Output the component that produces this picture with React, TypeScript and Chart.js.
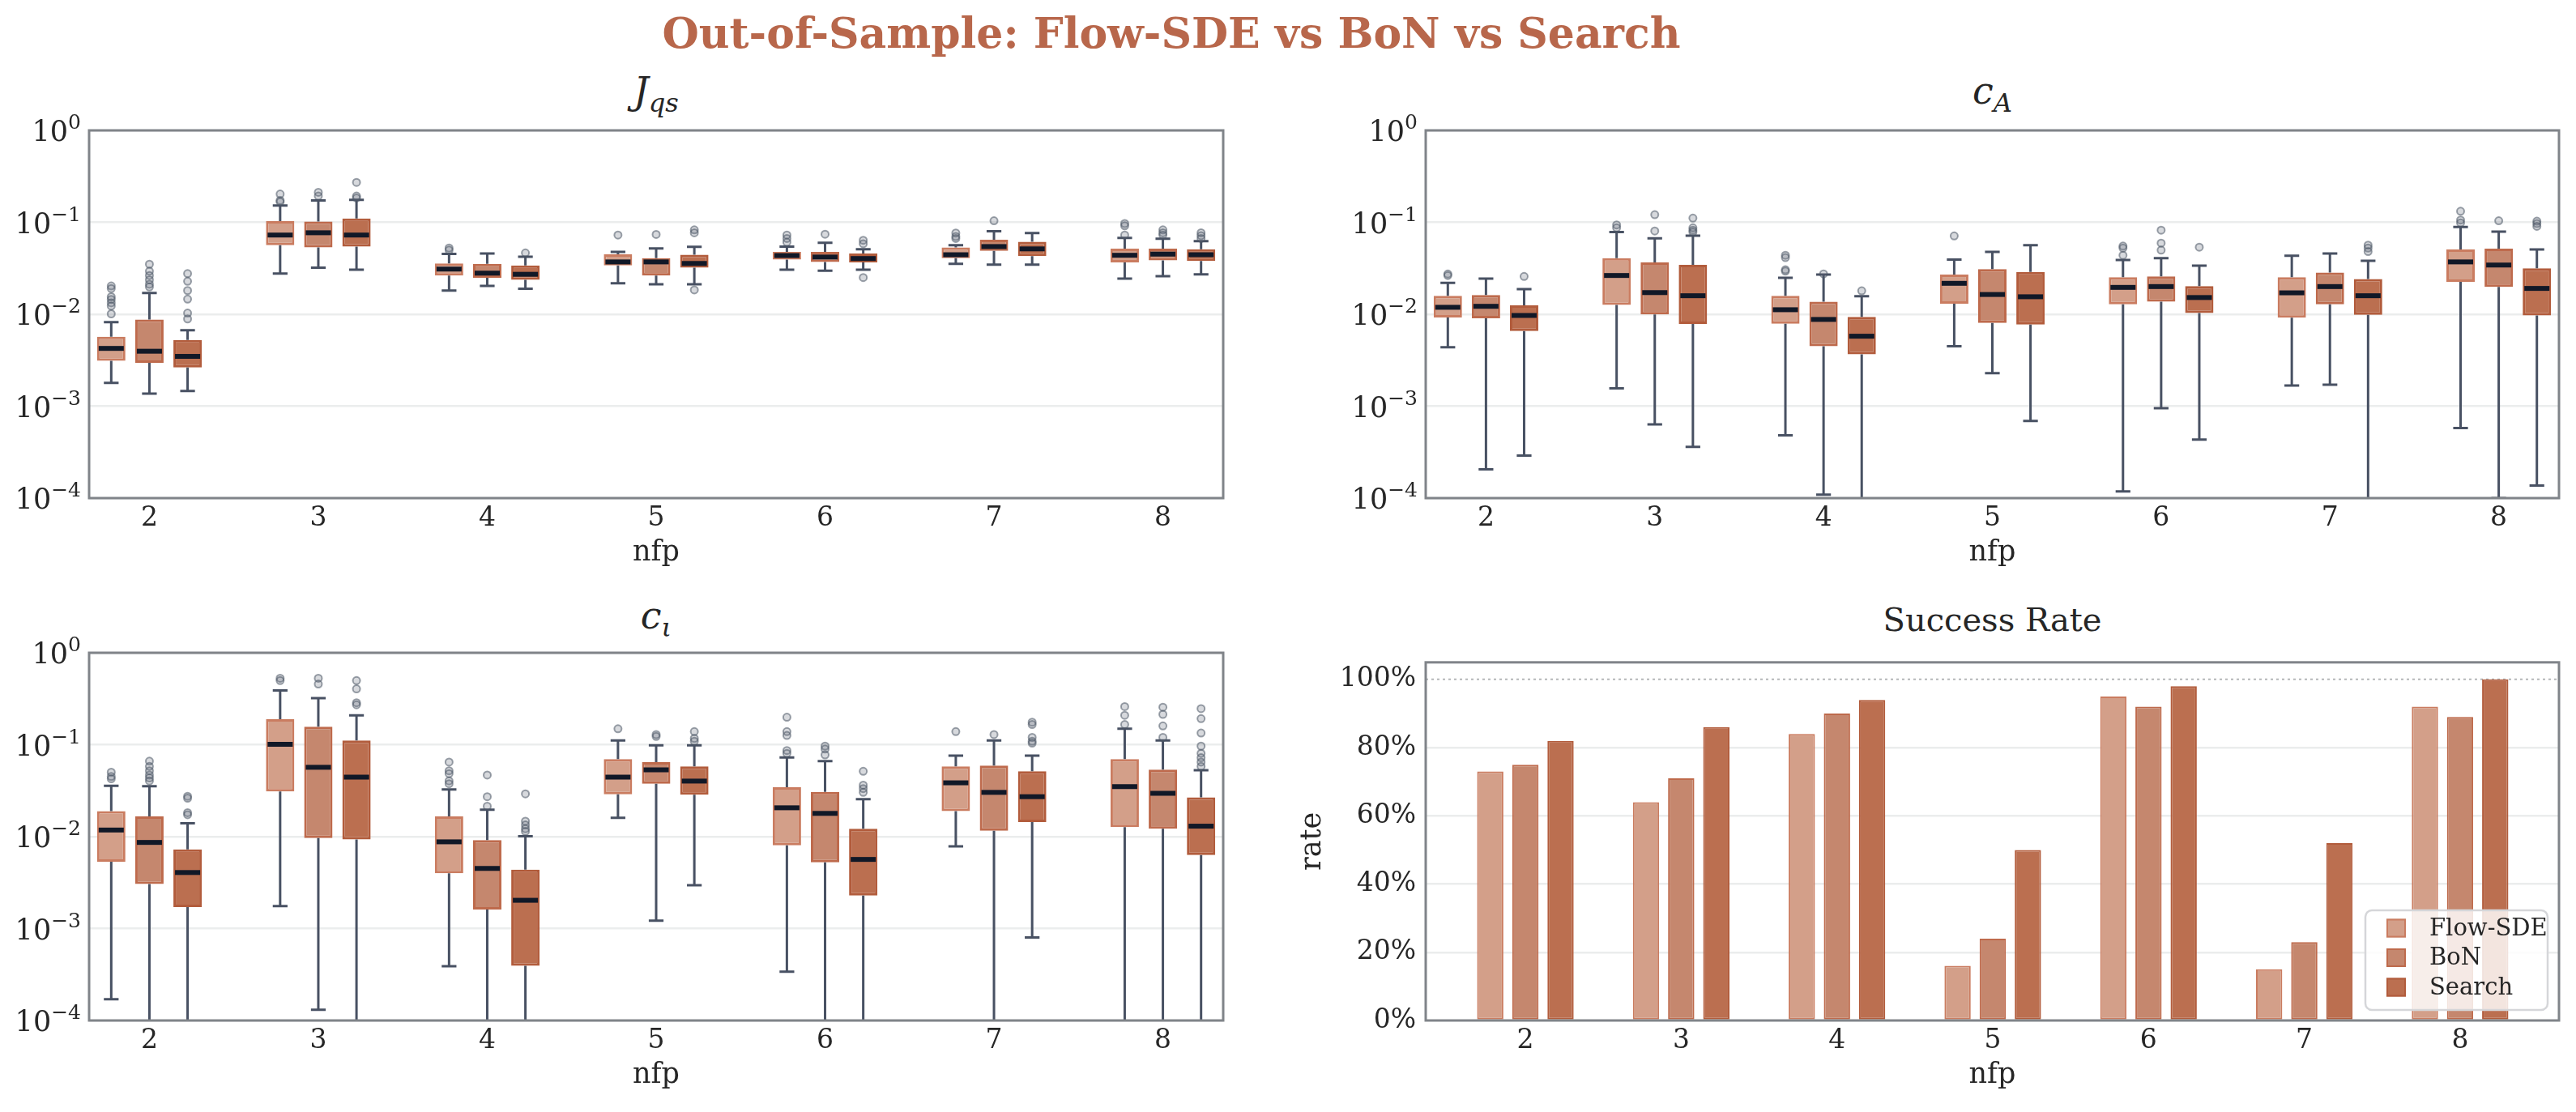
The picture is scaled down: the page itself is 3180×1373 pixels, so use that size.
import React, { useEffect, useRef } from 'react';
import { Chart, registerables } from 'chart.js';

Chart.register(...registerables);

// ---------------- data ----------------
const nfpLabels = ['2', '3', '4', '5', '6', '7', '8'];
const methodNames = ['Flow-SDE', 'BoN', 'Search'];

// Box statistics per nfp: [lower whisker, Q1, median, Q3, upper whisker]
const jqsFlowSDE = [
  [0.00179, 0.00312, 0.00425, 0.00569, 0.00822],
  [0.0277, 0.0564, 0.0727, 0.103, 0.152],
  [0.0181, 0.0264, 0.031, 0.0357, 0.0454],
  [0.0217, 0.034, 0.0371, 0.0448, 0.0478],
  [0.0305, 0.0393, 0.0435, 0.0478, 0.0545],
  [0.0353, 0.0407, 0.0444, 0.0533, 0.0564],
  [0.0244, 0.0366, 0.0438, 0.0518, 0.0676],
];
const jqsFlowSDEOutliers = [
  [0.0203, 0.019, 0.0155, 0.0145, 0.0133, 0.0123, 0.0101],
  [0.203, 0.173, 0.167],
  [0.0525, 0.0499],
  [0.0727],
  [0.0727, 0.0667, 0.0607],
  [0.0765, 0.0701, 0.0667],
  [0.097, 0.0917, 0.0727],
];
const jqsBoN = [
  [0.00137, 0.00296, 0.00396, 0.00878, 0.017],
  [0.0321, 0.0533, 0.077, 0.102, 0.173],
  [0.0203, 0.0249, 0.028, 0.0353, 0.0457],
  [0.0212, 0.0264, 0.0371, 0.0407, 0.0521],
  [0.0298, 0.0371, 0.0419, 0.0478, 0.0598],
  [0.0347, 0.0489, 0.0545, 0.0648, 0.0799],
  [0.026, 0.0385, 0.0451, 0.0518, 0.0662],
];
const jqsBoNOutliers = [
  [0.035, 0.0294, 0.0264, 0.0237, 0.0212, 0.0198],
  [0.212, 0.193],
  [],
  [0.0738],
  [0.0743],
  [0.104],
  [0.0828, 0.077, 0.0727],
];
const jqsSearch = [
  [0.00146, 0.00264, 0.00348, 0.00525, 0.00671],
  [0.0305, 0.0545, 0.0727, 0.11, 0.176],
  [0.0189, 0.0237, 0.0272, 0.034, 0.0422],
  [0.0212, 0.0321, 0.0357, 0.0444, 0.0541],
  [0.0305, 0.0366, 0.0404, 0.0457, 0.051],
  [0.0347, 0.0429, 0.0514, 0.0615, 0.0765],
  [0.0272, 0.0379, 0.0444, 0.051, 0.0625],
];
const jqsSearchOutliers = [
  [0.0277, 0.0228, 0.0181, 0.0146, 0.0103, 0.0089],
  [0.272, 0.193, 0.184],
  [0.0464],
  [0.0828, 0.077, 0.0184],
  [0.0638, 0.0585, 0.0251],
  [],
  [0.077, 0.0716, 0.0667],
];

const caFlowSDE = [
  [0.00438, 0.00923, 0.0119, 0.0159, 0.022],
  [0.00156, 0.0126, 0.0264, 0.0407, 0.0782],
  [0.000481, 0.00787, 0.0112, 0.0159, 0.0249],
  [0.00448, 0.013, 0.0217, 0.027, 0.0393],
  [0.000118, 0.0128, 0.0196, 0.0253, 0.039],
  [0.00168, 0.00917, 0.0171, 0.0253, 0.0432],
  [0.000577, 0.0225, 0.0371, 0.0506, 0.0891],
];
const caFlowSDEOutliers = [
  [0.0274, 0.0264],
  [0.0937, 0.0871],
  [0.0438, 0.0413, 0.0305, 0.0294],
  [0.0711],
  [0.0552, 0.0525, 0.0438],
  [],
  [0.132, 0.106, 0.0986],
];
const caBoN = [
  [0.000205, 0.00904, 0.0122, 0.0162, 0.0244],
  [0.000634, 0.00993, 0.0172, 0.0366, 0.0671],
  [0.000109, 0.00448, 0.00878, 0.0137, 0.027],
  [0.00228, 0.00805, 0.0164, 0.031, 0.0478],
  [0.00095, 0.0137, 0.02, 0.0258, 0.0407],
  [0.00171, 0.0128, 0.02, 0.0284, 0.0457],
  [0.0001, 0.0198, 0.0343, 0.0518, 0.0793],
];
const caBoNOutliers = [
  [],
  [0.121, 0.0805],
  [0.0275],
  [],
  [0.0822, 0.0594, 0.0499],
  [],
  [0.104],
];
const caSearch = [
  [0.00029, 0.00657, 0.0097, 0.0125, 0.0188],
  [0.00036, 0.00782, 0.0159, 0.0345, 0.0716],
  [0.00005, 0.00366, 0.00577, 0.00937, 0.0157],
  [0.000692, 0.00771, 0.0155, 0.0288, 0.0564],
  [0.000432, 0.0103, 0.0152, 0.0202, 0.0338],
  [0.00005, 0.00986, 0.0159, 0.0242, 0.0382],
  [0.000137, 0.0097, 0.0191, 0.0316, 0.0506],
];
const caSearchOutliers = [
  [0.0258],
  [0.111, 0.0871, 0.0822, 0.0782],
  [0.018],
  [],
  [0.0537],
  [0.0564, 0.0525, 0.0481],
  [0.103, 0.097, 0.0904],
];

const ciFlowSDE = [
  [0.00017, 0.00532, 0.0118, 0.0189, 0.0357],
  [0.00176, 0.031, 0.101, 0.189, 0.39],
  [0.00039, 0.00399, 0.00878, 0.0166, 0.0326],
  [0.016, 0.0288, 0.0444, 0.0696, 0.111],
  [0.00034, 0.00805, 0.0206, 0.0345, 0.0727],
  [0.00782, 0.0189, 0.0385, 0.0581, 0.076],
  [0.00005, 0.0127, 0.035, 0.0696, 0.149],
];
const ciFlowSDEOutliers = [
  [0.0502, 0.0451, 0.0426],
  [0.529, 0.499],
  [0.0648, 0.0521, 0.0485, 0.0404, 0.0376],
  [0.149],
  [0.199, 0.139, 0.126, 0.0865, 0.0805],
  [0.139],
  [0.26, 0.209, 0.166],
];
const ciBoN = [
  [0.00005, 0.00305, 0.00865, 0.0166, 0.0353],
  [0.000131, 0.00964, 0.0568, 0.157, 0.321],
  [0.00005, 0.00161, 0.00451, 0.00917, 0.0196],
  [0.00122, 0.0376, 0.0533, 0.0648, 0.0986],
  [0.00005, 0.00525, 0.0179, 0.0307, 0.0662],
  [0.00005, 0.0116, 0.0303, 0.0594, 0.111],
  [0.00005, 0.0122, 0.0296, 0.0537, 0.111],
];
const ciBoNOutliers = [
  [0.0662, 0.0581, 0.0521, 0.0468, 0.0435, 0.0404],
  [0.529, 0.457],
  [0.0468, 0.0272, 0.0214],
  [0.129, 0.123],
  [0.0965, 0.0897, 0.0776],
  [0.129],
  [0.256, 0.214, 0.16, 0.12],
];
const ciSearch = [
  [0.00005, 0.00171, 0.00407, 0.00728, 0.014],
  [0.00005, 0.0093, 0.0444, 0.111, 0.209],
  [0.00005, 0.000393, 0.00203, 0.00438, 0.0101],
  [0.00296, 0.0286, 0.0402, 0.0581, 0.0986],
  [0.00005, 0.00228, 0.00565, 0.0122, 0.0256],
  [0.0008, 0.0144, 0.0272, 0.0514, 0.076],
  [0.00005, 0.00629, 0.013, 0.0268, 0.0529],
];
const ciSearchOutliers = [
  [0.0275, 0.0262, 0.0182, 0.0173],
  [0.499, 0.405, 0.286, 0.272],
  [0.0292, 0.0147, 0.0134, 0.0122, 0.0114],
  [0.139, 0.117, 0.109],
  [0.0514, 0.0363, 0.0333, 0.0303],
  [0.176, 0.166, 0.12, 0.109, 0.104],
  [0.247, 0.192, 0.134, 0.0965, 0.0805, 0.0722, 0.0648, 0.0581],
];

const successFlowSDE = [0.73, 0.64, 0.84, 0.16, 0.95, 0.15, 0.92];
const successBoN = [0.75, 0.71, 0.9, 0.24, 0.92, 0.23, 0.89];
const successSearch = [0.82, 0.86, 0.94, 0.5, 0.98, 0.52, 1.0];

const logTickValues = [1e-4, 1e-3, 1e-2, 1e-1, 1];
const logTickExponents = ['\u22124', '\u22123', '\u22122', '\u22121', '0'];
const rateTickValues = [0, 0.2, 0.4, 0.6, 0.8, 1.0];
const rateTickLabels = ['0%', '20%', '40%', '60%', '80%', '100%'];

// ---------------- styles / layout ----------------
const FONT = "'DejaVu Serif', serif";
const TEXT = '#262626';
const fillColors = ['rgb(211,159,137)', 'rgb(197,135,110)', 'rgb(187,111,80)'];
const edgeColors = ['rgb(202,124,96)', 'rgb(190,106,76)', 'rgb(178,92,60)'];
const WHISKER = '#485163';
const MEDIAN = '#111827';
const GRID = '#ebeded';
const FRAME = '#808489';
const TICK_SIZE = 33;
const LOG_BASE_SIZE = 35;
const LOG_EXP_SIZE = 25;

const PAD_TOP = 20;
const PAD_RIGHT = 20;
const XAXIS_H = 95;

const plotTL = { left: 110, top: 161, right: 1510, bottom: 615 };
const plotTR = { left: 1760, top: 161, right: 3159, bottom: 615 };
const plotBL = { left: 110, top: 806, right: 1510, bottom: 1260 };
const plotBR = { left: 1760, top: 806, right: 3159, bottom: 1260 };

Chart.defaults.font.family = FONT;
Chart.defaults.color = TEXT;

function canvasRect(plot: any, axisW: number) {
  return {
    x: plot.left - axisW,
    y: plot.top - PAD_TOP,
    w: plot.right - plot.left + axisW + PAD_RIGHT,
    h: plot.bottom - plot.top + PAD_TOP + XAXIS_H,
  };
}

const framePlugin = {
  id: 'frame',
  afterDraw(chart: any) {
    const { ctx, chartArea: a } = chart;
    ctx.save();
    ctx.strokeStyle = FRAME;
    ctx.lineWidth = 3;
    ctx.strokeRect(a.left, a.top, a.right - a.left, a.bottom - a.top);
    ctx.restore();
  },
};

// draws "10" with a raised exponent, like matplotlib's log tick labels
const logTickPlugin = {
  id: 'logTicks',
  afterDraw(chart: any) {
    const { ctx, chartArea: a, scales } = chart;
    const yS = scales.y;
    ctx.save();
    ctx.fillStyle = TEXT;
    ctx.textBaseline = 'alphabetic';
    ctx.textAlign = 'left';
    logTickValues.forEach((v, i) => {
      const py = yS.getPixelForValue(v);
      const right = a.left - 10;
      ctx.font = `${LOG_EXP_SIZE}px ${FONT}`;
      const exp = logTickExponents[i];
      const ew = ctx.measureText(exp).width;
      ctx.font = `${LOG_BASE_SIZE}px ${FONT}`;
      const bw = ctx.measureText('10').width;
      const base = py + 13;
      ctx.fillText('10', right - ew - bw, base);
      ctx.font = `${LOG_EXP_SIZE}px ${FONT}`;
      ctx.fillText(exp, right - ew, base - 15);
    });
    ctx.restore();
  },
};

const boxPlugin = {
  id: 'boxDecor',
  afterDatasetsDraw(chart: any) {
    const { ctx, chartArea: a, scales } = chart;
    const yS = scales.y;
    ctx.save();
    ctx.beginPath();
    ctx.rect(a.left, a.top, a.right - a.left, a.bottom - a.top);
    ctx.clip();
    chart.data.datasets.forEach((ds: any, di: number) => {
      const meta = chart.getDatasetMeta(di);
      meta.data.forEach((el: any, i: number) => {
        const s = ds.stats[i];
        const x = el.x;
        const w = el.width;
        const pLo = yS.getPixelForValue(s[0]);
        const pQ1 = yS.getPixelForValue(s[1]);
        const pMed = yS.getPixelForValue(s[2]);
        const pQ3 = yS.getPixelForValue(s[3]);
        const pHi = yS.getPixelForValue(s[4]);
        const cap = w * 0.52;
        ctx.strokeStyle = WHISKER;
        ctx.lineWidth = 3;
        ctx.lineCap = 'butt';
        ctx.beginPath();
        ctx.moveTo(x, pQ3);
        ctx.lineTo(x, pHi);
        ctx.moveTo(x, pQ1);
        ctx.lineTo(x, pLo);
        ctx.stroke();
        ctx.beginPath();
        ctx.moveTo(x - cap / 2, pHi);
        ctx.lineTo(x + cap / 2, pHi);
        ctx.moveTo(x - cap / 2, pLo);
        ctx.lineTo(x + cap / 2, pLo);
        ctx.stroke();
        ctx.strokeStyle = MEDIAN;
        ctx.lineWidth = 6;
        ctx.beginPath();
        ctx.moveTo(x - w / 2 + 2, pMed);
        ctx.lineTo(x + w / 2 - 2, pMed);
        ctx.stroke();
        (ds.outliers[i] || []).forEach((v: number) => {
          const py = yS.getPixelForValue(v);
          ctx.beginPath();
          ctx.arc(x, py, 4.5, 0, Math.PI * 2);
          ctx.fillStyle = 'rgba(95,105,120,0.25)';
          ctx.fill();
          ctx.strokeStyle = 'rgba(75,85,100,0.55)';
          ctx.lineWidth = 2;
          ctx.stroke();
        });
      });
    });
    ctx.restore();
  },
};

const barDecorPlugin = {
  id: 'barDecor',
  beforeDatasetsDraw(chart: any) {
    const { ctx, chartArea: a, scales } = chart;
    const y = scales.y.getPixelForValue(1);
    ctx.save();
    ctx.strokeStyle = '#b4b6b8';
    ctx.lineWidth = 2;
    ctx.setLineDash([3, 4]);
    ctx.beginPath();
    ctx.moveTo(a.left, y);
    ctx.lineTo(a.right, y);
    ctx.stroke();
    ctx.restore();
  },
  afterDraw(chart: any) {
    const { ctx, chartArea: a } = chart;
    const w = 225;
    const h = 123;
    const x0 = a.right - 14 - w;
    const y0 = a.bottom - 13 - h;
    ctx.save();
    ctx.beginPath();
    ctx.roundRect(x0, y0, w, h, 8);
    ctx.fillStyle = 'rgba(255,255,255,0.82)';
    ctx.fill();
    ctx.strokeStyle = '#d5d6d9';
    ctx.lineWidth = 2.5;
    ctx.stroke();
    chart.data.datasets.forEach((ds: any, m: number) => {
      const cy = y0 + 22 + m * 36.5;
      ctx.fillStyle = ds.backgroundColor;
      ctx.fillRect(x0 + 26, cy - 11.5, 24, 23);
      ctx.strokeStyle = ds.borderColor;
      ctx.lineWidth = 2;
      ctx.strokeRect(x0 + 27, cy - 10.5, 22, 21);
      ctx.fillStyle = TEXT;
      ctx.font = `29px ${FONT}`;
      ctx.textBaseline = 'middle';
      ctx.textAlign = 'left';
      ctx.fillText(ds.label, x0 + 79, cy + 1);
    });
    ctx.restore();
  },
};

function xScale(min: number, max: number) {
  return {
    type: 'linear',
    min,
    max,
    bounds: 'data',
    offset: false,
    afterBuildTicks: (s: any) => {
      s.ticks = nfpLabels.map((_, i) => ({ value: i }));
    },
    afterFit: (s: any) => {
      s.height = XAXIS_H;
    },
    grid: { display: false, drawTicks: false, offset: false },
    border: { display: false },
    ticks: {
      callback: (_v: any, i: number) => nfpLabels[i],
      font: { size: TICK_SIZE },
      color: TEXT,
      padding: 6,
      autoSkip: false,
      maxRotation: 0,
      minRotation: 0,
    },
    title: {
      display: true,
      text: 'nfp',
      font: { size: 35 },
      color: TEXT,
      padding: { top: 0, bottom: 6 },
    },
  };
}

function boxConfig(stats: number[][][], outs: number[][][]) {
  return {
    type: 'bar',
    data: {
      datasets: stats.map((st, m) => ({
        label: methodNames[m],
        data: st.map((r, i) => ({ x: i, y: [r[1], r[3]] })),
        stats: st,
        outliers: outs[m],
        backgroundColor: fillColors[m],
        borderColor: edgeColors[m],
        borderWidth: 3,
        borderSkipped: false,
        categoryPercentage: 0.678,
        barPercentage: 0.743,
      })),
    },
    options: {
      responsive: false,
      animation: false,
      devicePixelRatio: 1,
      events: [],
      layout: { padding: { top: PAD_TOP, right: PAD_RIGHT, left: 0, bottom: 0 } },
      plugins: { legend: { display: false }, tooltip: { enabled: false }, title: { display: false } },
      scales: {
        x: xScale(-0.357, 6.357),
        y: {
          type: 'logarithmic',
          min: 1e-4,
          max: 1,
          bounds: 'data',
          afterBuildTicks: (s: any) => {
            s.ticks = logTickValues.map((v) => ({ value: v }));
          },
          afterFit: (s: any) => {
            s.width = 110;
          },
          grid: { color: GRID, lineWidth: 2.5, drawTicks: false },
          border: { display: false },
          ticks: { display: false },
        },
      },
    },
    plugins: [boxPlugin, framePlugin, logTickPlugin],
  };
}

function barConfig() {
  const series = [successFlowSDE, successBoN, successSearch];
  return {
    type: 'bar',
    data: {
      datasets: series.map((vals, m) => ({
        label: methodNames[m],
        data: vals.map((v, i) => ({ x: i, y: v })),
        backgroundColor: fillColors[m],
        borderColor: edgeColors[m],
        borderWidth: 2,
        borderSkipped: false,
        categoryPercentage: 0.677,
        barPercentage: 0.747,
      })),
    },
    options: {
      responsive: false,
      animation: false,
      devicePixelRatio: 1,
      events: [],
      layout: { padding: { top: PAD_TOP, right: PAD_RIGHT, left: 0, bottom: 0 } },
      plugins: { legend: { display: false }, tooltip: { enabled: false }, title: { display: false } },
      scales: {
        x: xScale(-0.64, 6.635),
        y: {
          type: 'linear',
          min: 0,
          max: 1.05,
          bounds: 'data',
          afterBuildTicks: (s: any) => {
            s.ticks = rateTickValues.map((v) => ({ value: v }));
          },
          afterFit: (s: any) => {
            s.width = 160;
          },
          grid: {
            color: (c: any) => (c.tick && (c.tick.value >= 0.999 || c.tick.value === 0) ? 'rgba(0,0,0,0)' : GRID),
            lineWidth: 2.5,
            drawTicks: false,
          },
          border: { display: false },
          ticks: {
            callback: (_v: any, i: number) => rateTickLabels[i],
            font: { size: TICK_SIZE },
            color: TEXT,
            padding: 12,
          },
          title: {
            display: true,
            text: 'rate',
            font: { size: 35 },
            color: TEXT,
            padding: { top: 0, bottom: 0 },
          },
        },
      },
    },
    plugins: [barDecorPlugin, framePlugin],
  };
}

function ChartCanvas({ rect, makeConfig }: any) {
  const ref = useRef<HTMLCanvasElement>(null);
  useEffect(() => {
    const chart = new Chart(ref.current as any, makeConfig() as any);
    return () => chart.destroy();
  }, []);
  return (
    <canvas
      ref={ref}
      width={rect.w}
      height={rect.h}
      style={{ position: 'absolute', left: rect.x, top: rect.y, width: rect.w, height: rect.h }}
    />
  );
}

function Label({ x, y, size, bold, color, children }: any) {
  return (
    <div
      style={{
        position: 'absolute',
        left: x,
        top: y,
        transform: 'translate(-50%, -50%)',
        fontFamily: FONT,
        fontSize: size,
        fontWeight: bold ? 'bold' : 'normal',
        color: color || TEXT,
        lineHeight: 1,
        whiteSpace: 'nowrap',
      }}
    >
      {children}
    </div>
  );
}

const subStyle: any = { fontStyle: 'italic', fontSize: '0.7em', position: 'relative', top: '0.3em' };

export default function App() {
  const cx = (p: any) => (p.left + p.right) / 2;
  return (
    <div
      style={{
        position: 'absolute',
        left: 0,
        top: 0,
        width: 3180,
        height: 1373,
        background: '#ffffff',
        overflow: 'hidden',
      }}
    >
      <Label x={1446} y={41} size={52} bold color="#b8674b">
        Out-of-Sample: Flow-SDE vs BoN vs Search
      </Label>
      <Label x={cx(plotTL)} y={112} size={46}>
        <span style={{ fontStyle: 'italic' }}>J</span>
        <span style={subStyle}>qs</span>
      </Label>
      <Label x={cx(plotTR)} y={112} size={46}>
        <span style={{ fontStyle: 'italic' }}>c</span>
        <span style={subStyle}>A</span>
      </Label>
      <Label x={cx(plotBL)} y={760} size={46}>
        <span style={{ fontStyle: 'italic' }}>c</span>
        <span style={subStyle}>ι</span>
      </Label>
      <Label x={cx(plotBR)} y={765} size={40}>
        Success Rate
      </Label>
      <ChartCanvas
        rect={canvasRect(plotTL, 110)}
        makeConfig={() => boxConfig([jqsFlowSDE, jqsBoN, jqsSearch], [jqsFlowSDEOutliers, jqsBoNOutliers, jqsSearchOutliers])}
      />
      <ChartCanvas
        rect={canvasRect(plotTR, 110)}
        makeConfig={() => boxConfig([caFlowSDE, caBoN, caSearch], [caFlowSDEOutliers, caBoNOutliers, caSearchOutliers])}
      />
      <ChartCanvas
        rect={canvasRect(plotBL, 110)}
        makeConfig={() => boxConfig([ciFlowSDE, ciBoN, ciSearch], [ciFlowSDEOutliers, ciBoNOutliers, ciSearchOutliers])}
      />
      <ChartCanvas rect={canvasRect(plotBR, 160)} makeConfig={() => barConfig()} />
    </div>
  );
}
